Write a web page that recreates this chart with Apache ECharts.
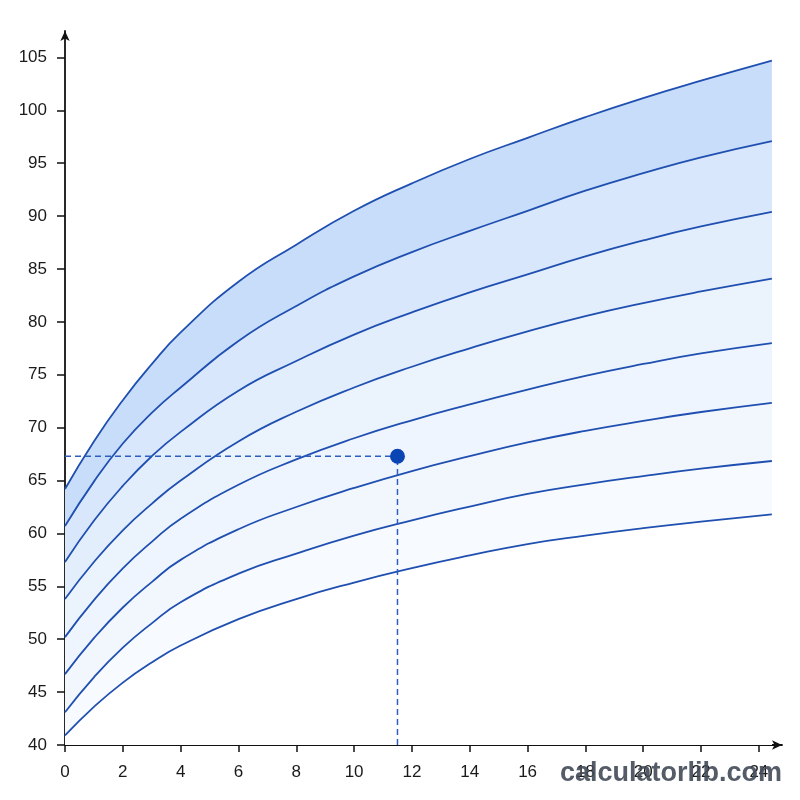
<!DOCTYPE html>
<html>
<head>
<meta charset="utf-8">
<script src="https://cdn.jsdelivr.net/npm/echarts@6/dist/echarts.min.js"></script>
<style>
  html, body { margin: 0; padding: 0; background: #fff; }
  #chart { width: 800px; height: 800px; }
</style>
</head>
<body>
<div id="chart"></div>
<script>
// x positions shared by all curves
const ages = [0, 1, 2, 3, 4, 6, 8, 10, 12, 14, 16, 18, 20, 22, 24.45]

// curves, top to bottom
const c1 = [64.2, 68.7, 72.6, 76.0, 79.0, 83.8, 87.3, 90.5, 93.1, 95.4, 97.4, 99.36, 101.16, 102.8, 104.7]
const c2 = [60.7, 64.9, 68.5, 71.4, 73.8, 78.2, 81.5, 84.3, 86.6, 88.6, 90.5, 92.4, 94.06, 95.56, 97.1]
const c3 = [57.3, 61.2, 64.5, 67.3, 69.6, 73.5, 76.3, 78.8, 80.9, 82.8, 84.5, 86.2, 87.7, 89.02, 90.4]
const c4 = [53.8, 57.3, 60.3, 62.8, 65.0, 68.7, 71.5, 73.8, 75.76, 77.5, 79.1, 80.54, 81.78, 82.88, 84.1]
const c5 = [50.2, 53.7, 56.7, 59.2, 61.4, 64.6, 67.0, 69.0, 70.7, 72.2, 73.6, 74.9, 76.02, 77.02, 78.0]
const c6 = [46.7, 50.1, 53.0, 55.4, 57.5, 60.4, 62.5, 64.3, 65.9, 67.3, 68.6, 69.7, 70.64, 71.48, 72.35]
const c7 = [43.1, 46.4, 49.2, 51.5, 53.5, 56.2, 58.1, 59.8, 61.24, 62.54, 63.74, 64.64, 65.42, 66.12, 66.85]
const c8 = [40.9, 43.6, 45.9, 47.8, 49.4, 51.9, 53.8, 55.36, 56.72, 57.92, 59.0, 59.8, 60.5, 61.12, 61.8]

const curves = [c1, c2, c3, c4, c5, c6, c7, c8]
const bandColors = ['#c8ddf9', '#d8e7fb', '#e3eefc', '#ebf3fd', '#eff5fe', '#f2f7fe', '#f7fafe', '#ffffff']

// the marked measurement
const pointX = 11.5
const pointY = 67.3

const xTicks = [0, 2, 4, 6, 8, 10, 12, 14, 16, 18, 20, 22, 24]
const yTicks = [40, 45, 50, 55, 60, 65, 70, 75, 80, 85, 90, 95, 100, 105]

const lineColor = '#1f4fb0'
const axisColor = '#111'
const labelFont = { color: '#1a1a1a', fontSize: 17, fontFamily: 'Liberation Sans, Arial, sans-serif' }

const chart = echarts.init(document.getElementById('chart'))

const curveSeries = curves.map((vals, i) => ({
  type: 'line',
  smooth: true,
  symbol: 'none',
  data: ages.map((a, j) => [a, vals[j]]),
  lineStyle: { color: lineColor, width: 1.8 },
  areaStyle: { color: bandColors[i], opacity: 1, origin: 'start' },
  z: 2
}))

chart.setOption({
  animation: false,
  backgroundColor: '#fff',
  grid: { left: 65, right: 18, top: 31, bottom: 55 },
  xAxis: {
    type: 'value',
    min: 0,
    max: 24.8,
    splitLine: { show: false },
    axisLine: {
      onZero: false,
      lineStyle: { color: axisColor, width: 1.8 },
      symbol: ['none', 'arrow'],
      symbolSize: [7, 10]
    },
    axisTick: { customValues: xTicks, length: 7, lineStyle: { color: axisColor, width: 1.5 } },
    axisLabel: { customValues: xTicks, margin: 19, ...labelFont }
  },
  yAxis: {
    type: 'value',
    min: 40,
    max: 107.5,
    splitLine: { show: false },
    axisLine: {
      show: true,
      onZero: false,
      lineStyle: { color: axisColor, width: 1.8 },
      symbol: ['none', 'arrow'],
      symbolSize: [7, 10]
    },
    axisTick: { show: true, customValues: yTicks, length: 8, lineStyle: { color: axisColor, width: 1.5 } },
    axisLabel: { customValues: yTicks, margin: 18, ...labelFont }
  },
  series: [
    ...curveSeries,
    {
      type: 'line',
      symbol: 'none',
      data: [[0, pointY], [pointX, pointY]],
      lineStyle: { color: '#2d5fbf', width: 1.5, type: [6, 4] },
      z: 5
    },
    {
      type: 'line',
      symbol: 'none',
      data: [[pointX, 40], [pointX, pointY]],
      lineStyle: { color: '#2d5fbf', width: 1.5, type: [6, 4] },
      z: 5
    },
    {
      type: 'scatter',
      symbolSize: 15,
      data: [[pointX, pointY]],
      itemStyle: { color: '#0b45b4', opacity: 1 },
      z: 6
    }
  ],
  graphic: [
    {
      type: 'text',
      right: 18,
      top: 760,
      style: {
        text: 'calculatorlib.com',
        fill: 'rgba(65,74,88,0.9)',
        font: 'bold 27px Liberation Sans, Arial, sans-serif'
      },
      z: 100
    }
  ]
})
</script>
</body>
</html>
